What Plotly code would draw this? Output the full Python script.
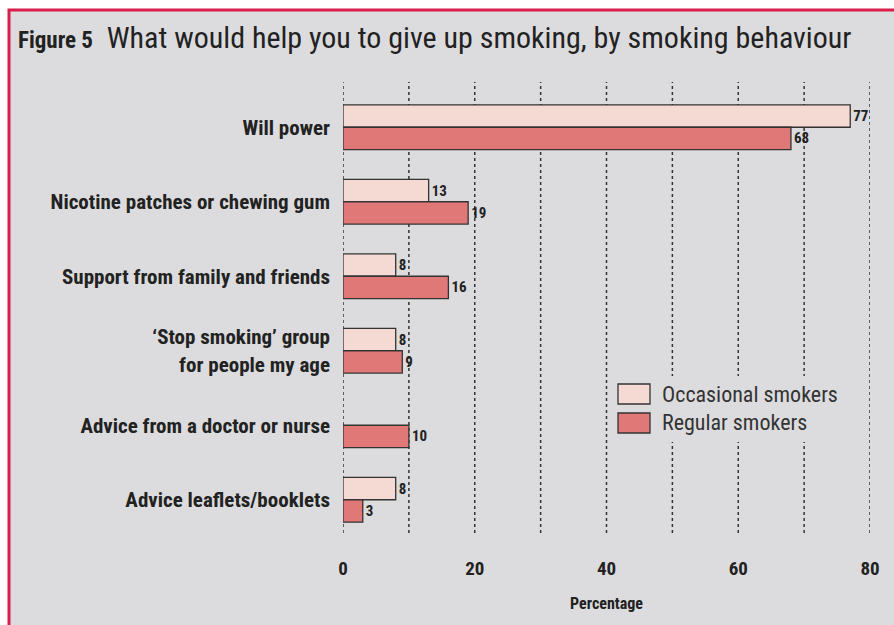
import plotly.graph_objects as go

categories = [
    "Will power",
    "Nicotine patches or chewing gum",
    "Support from family and friends",
    "\u2018Stop smoking\u2019 group<br>for people my age",
    "Advice from a doctor or nurse",
    "Advice leaflets/booklets",
]
occasional = [77, 13, 8, 8, None, 8]
regular = [68, 19, 16, 9, 10, 3]
x_ticks = [0, 20, 40, 60, 80]
grid_vals = [0, 10, 20, 30, 40, 50, 60, 70, 80]
series_names = ["Occasional smokers", "Regular smokers"]

FONT = "Liberation Sans Narrow, Arial Narrow, Roboto Condensed, Liberation Sans, sans-serif"
BG = "#dcdcde"
OCC = "#f5d9d3"
REG = "#e07878"
EDGE = "#333333"
TXT = "#222222"

W, H = 894, 625
L, R, T, B = 343, 24, 90, 88

fig = go.Figure()
fig.add_trace(go.Bar(
    y=categories, x=occasional, orientation="h", name=series_names[0],
    marker=dict(color=OCC, line=dict(color=EDGE, width=1.3)),
    text=[("" if v is None else str(v)) for v in occasional], textposition="outside",
    textfont=dict(family=FONT, size=15, color=TXT, weight="bold"), cliponaxis=False,
    showlegend=False,
))
fig.add_trace(go.Bar(
    y=categories, x=regular, orientation="h", name=series_names[1],
    marker=dict(color=REG, line=dict(color=EDGE, width=1.3)),
    text=[str(v) for v in regular], textposition="outside",
    textfont=dict(family=FONT, size=15, color=TXT, weight="bold"), cliponaxis=False,
    showlegend=False,
))

pw = W - L - R
ph = H - T - B
def px(xp):
    return (xp - L) / pw
def py(yp):
    return (H - B - yp) / ph

shapes = [
    dict(type="rect", xref="paper", yref="paper", layer="below",
         x0=px(9), x1=px(905), y0=py(10), y1=py(700),
         fillcolor=BG, line=dict(color="#d81e4a", width=3)),
]
for g in grid_vals:
    shapes.append(dict(type="line", xref="x", yref="paper", layer="below",
                       x0=g, x1=g, y0=py(533), y1=py(82),
                       line=dict(color="#333", width=1.5, dash="dot")))

# legend background hides the gridlines behind it
shapes.append(dict(type="rect", xref="paper", yref="paper", layer="below",
                   x0=px(612), x1=px(862), y0=py(442), y1=py(376),
                   fillcolor=BG, line=dict(width=0)))

# manual legend (larger swatches like the original)
annotations = []
leg_rows = [(series_names[0], OCC, 384), (series_names[1], REG, 413)]
for name, col, ytop in leg_rows:
    shapes.append(dict(type="rect", xref="paper", yref="paper",
                       x0=px(618), x1=px(650), y0=py(ytop + 20), y1=py(ytop),
                       fillcolor=col, line=dict(color=EDGE, width=1.3)))
    annotations.append(dict(text=name, xref="paper", yref="paper",
                            x=px(660), y=py(ytop + 10), xanchor="left", yanchor="middle",
                            showarrow=False, font=dict(family=FONT, size=22, color="#333")))

fig.update_layout(
    width=W, height=H,
    margin=dict(l=L, r=R, t=T, b=B),
    paper_bgcolor="white", plot_bgcolor="rgba(0,0,0,0)",
    barmode="group", bargap=0.40, bargroupgap=0,
    shapes=shapes, annotations=annotations,
    font=dict(family=FONT, color=TXT),
    showlegend=False,
    title=dict(
        text="<b><span style='font-size:23px'>Figure 5</span></b>  What would help you to give up smoking, by smoking behaviour",
        xref="container", yref="container", x=18 / W, xanchor="left",
        y=1 - 37 / H, yanchor="middle",
        font=dict(family=FONT, size=30, color=TXT),
    ),
    xaxis=dict(
        range=[0, 80], tickvals=x_ticks, ticktext=[str(v) for v in x_ticks],
        showgrid=False, zeroline=False, showline=False, ticks="",
        ticklabelstandoff=18,
        tickfont=dict(family=FONT, size=19, color=TXT, weight="bold"),
        title=dict(text="Percentage", font=dict(family=FONT, size=16, color=TXT, weight="bold"), standoff=18),
    ),
    yaxis=dict(
        autorange="reversed", showgrid=False, zeroline=False, showline=False, ticks="",
        ticklabelstandoff=12,
        tickfont=dict(family=FONT, size=21, color=TXT, weight="bold"),
    ),
)

fig.write_html("out.html")
